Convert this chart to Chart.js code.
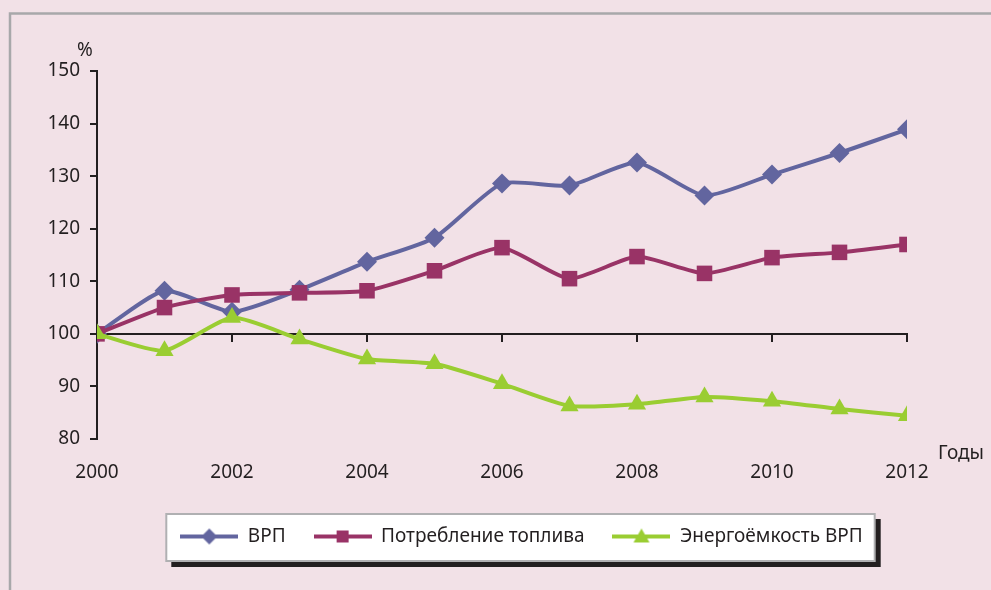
<!DOCTYPE html>
<html>
<head>
<meta charset="utf-8">
<script src="https://cdn.jsdelivr.net/npm/chart.js@4"></script>
<style>
  html, body { margin: 0; padding: 0; background: #f2e1e7; }
  #wrap { width: 991px; height: 590px; }
</style>
</head>
<body>
<div id="wrap"><canvas id="myChart" width="991" height="590"></canvas></div>
<script>
// данные графика
const years = [2000, 2001, 2002, 2003, 2004, 2005, 2006, 2007, 2008, 2009, 2010, 2011, 2012];
const vrp = [100, 108.2, 104.2, 108.4, 113.7, 118.3, 128.6, 128.2, 132.6, 126.3, 130.3, 134.4, 138.9];
const fuel = [100, 105.0, 107.4, 107.8, 108.2, 112.0, 116.4, 110.5, 114.7, 111.5, 114.5, 115.5, 117.0];
const energy = [100, 96.8, 103.1, 99.0, 95.2, 94.3, 90.5, 86.3, 86.6, 88.0, 87.2, 85.7, 84.4];
const seriesNames = ['ВРП', 'Потребление топлива', 'Энергоёмкость ВРП'];
const yTicks = { min: 80, max: 150, step: 10 };
const xTicks = { min: 2000, max: 2012, step: 2 };

const colors = ['#62659f', '#993366', '#9acd32'];
const styles = ['rectRot', 'rect', 'triangle'];
const radii = [10, 11, 10.5];
const fontName = '"Noto Sans", sans-serif';
const textColor = '#231f20';

// иконка легенды: линия с маркером посередине
function legendIcon(color, style) {
  const c = document.createElement('canvas');
  c.width = 58;
  c.height = 22;
  const g = c.getContext('2d');
  g.strokeStyle = color;
  g.lineWidth = 4;
  g.beginPath();
  g.moveTo(0, 11);
  g.lineTo(58, 11);
  g.stroke();
  g.fillStyle = color;
  g.beginPath();
  if (style === 'rectRot') {
    g.moveTo(29, 3); g.lineTo(37, 11); g.lineTo(29, 19); g.lineTo(21, 11);
  } else if (style === 'rect') {
    g.rect(23, 5, 12, 12);
  } else {
    g.moveTo(29, 3); g.lineTo(37, 17); g.lineTo(21, 17);
  }
  g.closePath();
  g.fill();
  return c;
}
const icons = colors.map((c, i) => legendIcon(c, styles[i]));

function toPoints(values) {
  return values.map((v, i) => ({ x: years[i], y: v }));
}

const datasets = [vrp, fuel, energy].map((values, i) => ({
  label: seriesNames[i],
  data: toPoints(values),
  borderColor: colors[i],
  backgroundColor: colors[i],
  borderWidth: 4,
  pointStyle: styles[i],
  pointRadius: radii[i],
  pointHoverRadius: radii[i],
  pointBorderWidth: 0,
  tension: 0.2,
  order: 3 - i
}));

// фон, рамка, подписи "%" и "Годы", рамка легенды с тенью
const decorPlugin = {
  id: 'decor',
  afterLayout(chart) {
    // сдвигаем легенду вправо, как в оригинале
    const lg = chart.legend;
    lg.left += 68;
    lg.right += 68;
  },
  beforeDraw(chart) {
    const ctx = chart.ctx;
    const area = chart.chartArea;
    ctx.save();
    ctx.fillStyle = '#f2e1e7';
    ctx.fillRect(0, 0, chart.width, chart.height);
    ctx.strokeStyle = '#a8a8aa';
    ctx.lineWidth = 2.5;
    ctx.strokeRect(10, 13.5, chart.width + 20, chart.height + 20);

    const hits = chart.legend.legendHitBoxes;
    if (hits && hits.length) {
      const first = hits[0];
      const last = hits[hits.length - 1];
      const left = first.left - 14;
      const right = last.left + last.width + 12;
      const top = first.top - 13;
      const bottom = first.top + first.height + 15;
      ctx.fillStyle = '#231f20';
      ctx.fillRect(left + 5, top + 5, right - left + 1, bottom - top + 1);
      ctx.fillStyle = '#ffffff';
      ctx.fillRect(left, top, right - left, bottom - top);
      ctx.strokeStyle = '#b0b0b2';
      ctx.lineWidth = 2;
      ctx.strokeRect(left, top, right - left, bottom - top);
    }

    ctx.fillStyle = textColor;
    ctx.font = '19px ' + fontName;
    ctx.textAlign = 'center';
    ctx.textBaseline = 'middle';
    ctx.fillText('%', area.left - 12, area.top - 20);
    ctx.textAlign = 'left';
    ctx.fillText('Годы', area.right + 31, area.bottom + 15);
    ctx.restore();
  }
};

const ctx = document.getElementById('myChart').getContext('2d');
const myChart = new Chart(ctx, {
  type: 'line',
  data: { datasets: datasets },
  plugins: [decorPlugin],
  options: {
    responsive: false,
    animation: false,
    layout: { padding: { left: 0, top: 71, right: 84, bottom: 34 } },
    plugins: {
      tooltip: { enabled: false },
      legend: {
        position: 'bottom',
        labels: {
          color: textColor,
          font: { family: fontName, size: 19 },
          usePointStyle: true,
          pointStyleWidth: 58,
          padding: 28,
          generateLabels(chart) {
            return chart.data.datasets.map((ds, i) => ({
              text: ds.label,
              pointStyle: icons[i],
              fillStyle: colors[i],
              strokeStyle: colors[i],
              lineWidth: 0,
              fontColor: textColor,
              hidden: false,
              datasetIndex: i
            }));
          }
        }
      }
    },
    scales: {
      x: {
        type: 'linear',
        min: xTicks.min,
        max: xTicks.max,
        grid: { display: false, drawTicks: false },
        border: { display: false },
        ticks: {
          stepSize: xTicks.step,
          maxRotation: 0,
          padding: 22,
          color: textColor,
          font: { family: fontName, size: 19 },
          callback: (v) => String(v)
        },
        afterFit(scale) { scale.height = 60; }
      },
      x2: {
        type: 'linear',
        axis: 'x',
        position: { y: 100 },
        min: xTicks.min,
        max: xTicks.max,
        grid: { drawOnChartArea: false, drawTicks: true, tickLength: 7, color: textColor, lineWidth: 2 },
        border: { display: true, color: textColor, width: 2 },
        ticks: { display: false, stepSize: xTicks.step }
      },
      y: {
        min: yTicks.min,
        max: yTicks.max,
        grid: { drawOnChartArea: false, drawTicks: true, tickLength: 7, color: textColor, lineWidth: 2 },
        border: { display: true, color: textColor, width: 2 },
        ticks: {
          stepSize: yTicks.step,
          padding: 10,
          color: textColor,
          font: { family: fontName, size: 19 }
        },
        afterFit(scale) { scale.width = 97; }
      }
    }
  }
});
</script>
</body>
</html>
